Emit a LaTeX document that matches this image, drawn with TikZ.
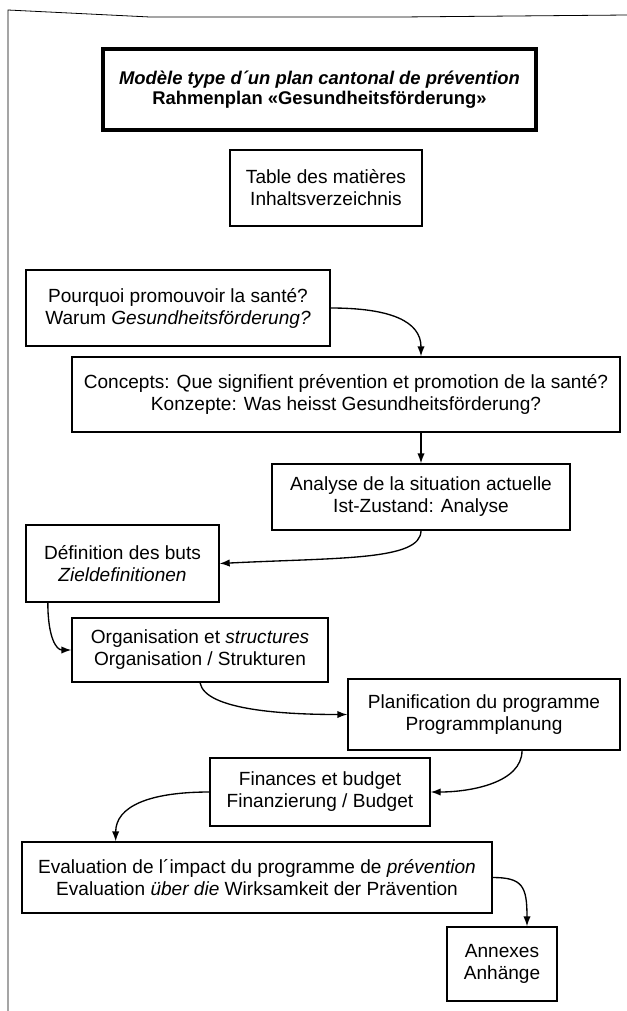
\documentclass[tikz,border=0pt]{standalone}
\usepackage{fontspec}
\setmainfont{Liberation Sans}
\usetikzlibrary{arrows.meta}

\tikzset{
  plainbox/.style={draw, line width=1pt, inner sep=0pt, align=center,
    font=\fontsize{14.3}{16.5}\selectfont},
  titlebox/.style={plainbox, line width=2.6pt, font=\bfseries\fontsize{13.8}{15}\selectfont},
  flow/.style={line width=1pt, -{Latex[length=7.5pt,width=5.5pt]}},
  frame/.style={line width=0.6pt}
}

\begin{document}
\begin{tikzpicture}[x=0.75pt,y=0.75pt,yscale=-1,xscale=1]
\useasboundingbox (0,0) rectangle (627,1011);

%Shape: page frame
	\draw [frame] (627,15) -- (400,17) -- (150,17) -- (8,10) -- (8,1011) ;

% Title Node
	\draw (319.5,89.5) node [titlebox, minimum width=324.75pt, minimum height=60.75pt] (title) {\itshape Modèle type d´un plan cantonal de prévention\\Rahmenplan «Gesundheitsförderung»};
% Text Node
	\draw (326,188) node [plainbox, minimum width=144pt, minimum height=57pt] (contents) {Table des matières\\Inhaltsverzeichnis};
% Text Node
	\draw (178,308) node [plainbox, minimum width=228pt, minimum height=57pt] (why) {Pourquoi promouvoir la santé?\\Warum \textit{Gesundheitsförderung?}};
% Text Node
	\draw (346,394.5) node [plainbox, minimum width=411pt, minimum height=56.25pt] (concepts) {Concepts: Que signifient prévention et promotion de la santé?\\Konzepte: Was heisst Gesundheitsförderung?};
% Text Node
	\draw (421,497) node [plainbox, minimum width=223.5pt, minimum height=49.5pt] (analyse) {Analyse de la situation actuelle\\Ist-Zustand: Analyse};
% Text Node
	\draw (122.5,563.5) node [plainbox, minimum width=144.75pt, minimum height=57.75pt] (goals) {Définition des buts\\\textit{Zieldefinitionen}};
% Text Node
	\draw (200,650) node [plainbox, minimum width=192pt, minimum height=48pt] (orga) {Organisation et \textit{structures}\\Organisation / Strukturen};
% Text Node
	\draw (484,714.5) node [plainbox, minimum width=204pt, minimum height=53.25pt] (plan) {Planification du programme\\Programmplanung};
% Text Node
	\draw (320,792) node [plainbox, minimum width=165pt, minimum height=51pt] (budget) {Finances et budget\\Finanzierung / Budget};
% Text Node
	\draw (257,877.5) node [plainbox, minimum width=352.5pt, minimum height=53.25pt] (evaluation) {Evaluation de l´impact du programme de \textit{prévention}\\Evaluation \textit{über die} Wirksamkeit der Prävention};
% Text Node
	\draw (502,964) node [plainbox, minimum width=82.5pt, minimum height=55.5pt] (annex) {Annexes\\Anhänge};

%Curved Lines
	\draw [flow] (why.east) .. controls +(60,0) and +(0,-35) .. (analyse.north |- concepts.north) ;
	\draw [flow] (analyse.north |- concepts.south) -- (analyse.north) ;
	\draw [flow] (analyse.south) .. controls +(0,30) and +(120,-6) .. (goals.east) ;
	\draw [flow] ([xshift=-56pt]goals.south) .. controls +(0,35) and +(-15,0) .. (orga.west) ;
	\draw [flow] (orga.south) .. controls +(5,28) and +(-60,0) .. (plan.west) ;
	\draw [flow] ([xshift=28.5pt]plan.south) .. controls +(0,32) and +(40,0) .. (budget.east) ;
	\draw [flow] (budget.west) .. controls +(-60,0) and +(0,-35) .. ([xshift=-106pt]evaluation.north) ;
	\draw [flow] (evaluation.east) .. controls +(30,0) and +(0,-40) .. ([xshift=18.75pt]annex.north) ;

\end{tikzpicture}
\end{document}
